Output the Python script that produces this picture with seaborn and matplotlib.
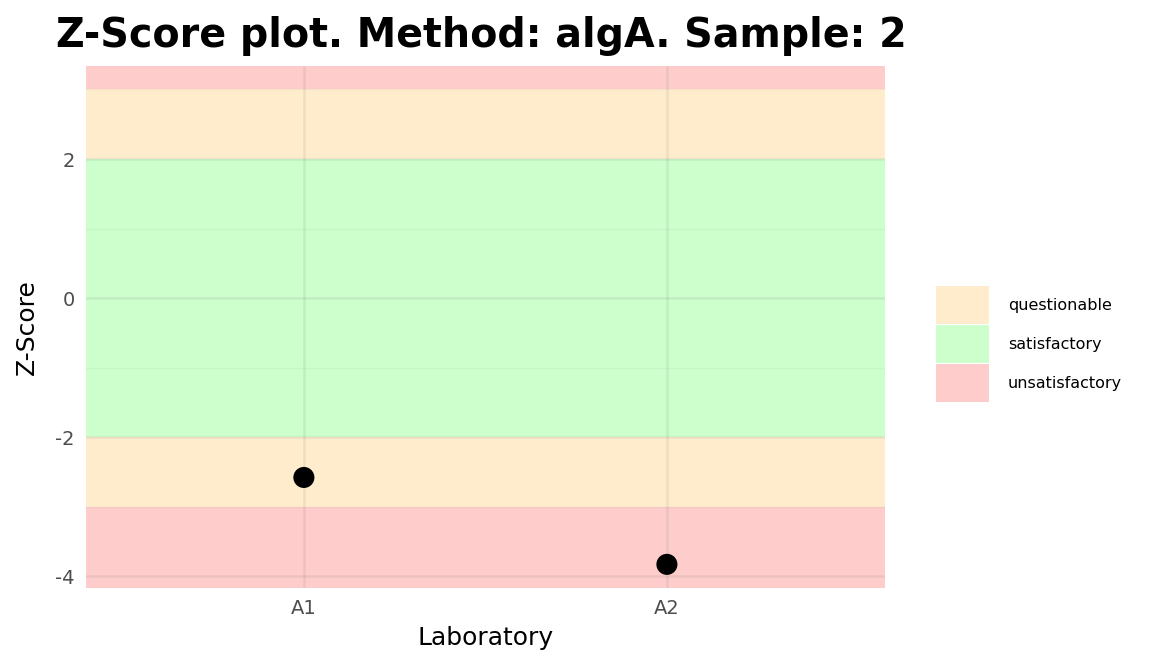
import matplotlib
matplotlib.use("Agg")
import matplotlib.pyplot as plt
import seaborn as sns
import pandas as pd
from matplotlib.patches import Patch

labs = ["A1", "A2"]
zscores = [-2.58, -3.83]
zone_names = ["questionable", "satisfactory", "unsatisfactory"]
zone_colors = {"questionable": "#FFECCC", "satisfactory": "#CCFFCC", "unsatisfactory": "#FFCCCC"}
zones = [(-10, -3, "unsatisfactory"), (-3, -2, "questionable"), (-2, 2, "satisfactory"),
         (2, 3, "questionable"), (3, 10, "unsatisfactory")]

sns.set_theme(style="white")
plt.rcParams['font.family'] = ['DejaVu Sans']
fig = plt.figure(figsize=(11.52, 6.72), dpi=100)
ax = fig.add_axes([0.0747, 0.125, 0.6933, 0.777])
for lo, hi, n in zones:
    ax.axhspan(lo, hi, color=zone_colors[n], zorder=0, lw=0)
for y in [-4, -3, -2, -1, 0, 1, 2, 3]:
    ax.axhline(y, color="#888888", alpha=0.15 if y % 2 == 0 else 0.08, lw=1.8 if y % 2 == 0 else 1, zorder=1)
for x in [0, 1]:
    ax.axvline(x, color="#888888", alpha=0.15, lw=1.8, zorder=1)
df = pd.DataFrame({"Laboratory": labs, "Z": zscores})
sns.scatterplot(data=df, x="Laboratory", y="Z", color="black", s=230, ax=ax, zorder=3, edgecolor="none")
ax.set_xlim(-0.6, 1.6)
ax.set_ylim(-4.17, 3.34)
ax.set_yticks([-4, -2, 0, 2])
ax.set_yticklabels(["-4", "-2", "0", "2"])
ax.tick_params(labelsize=14, colors="#4d4d4d", length=0, pad=8)
for s in ax.spines.values():
    s.set_visible(False)
ax.set_xlabel("Laboratory", fontsize=18, color="black", labelpad=6)
ax.set_ylabel("Z-Score", fontsize=18, color="black", labelpad=12)
fig.text(0.049, 0.93, "Z-Score plot. Method: algA. Sample: 2", fontsize=28.5, fontweight="bold", color="black")
handles = [Patch(facecolor=zone_colors[n], edgecolor="none") for n in zone_names]
fig.legend(handles, zone_names, loc="center left", bbox_to_anchor=(0.8, 0.488), frameon=False,
           fontsize=11.5, handlelength=3.3, handleheight=3.3, labelspacing=0.05, handletextpad=1.2,
           labelcolor="black")
fig.savefig("out.png", dpi=100)
